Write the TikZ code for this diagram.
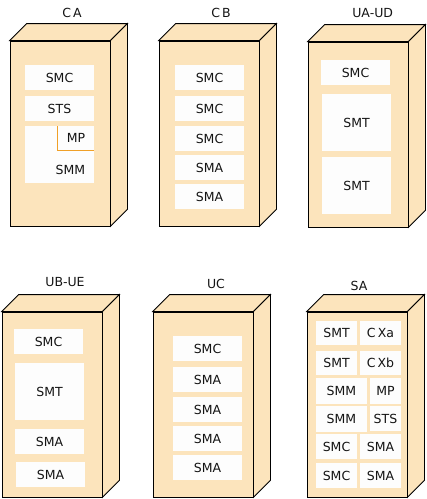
\documentclass[tikz,border=0pt]{standalone}
\usepackage{fontspec}
\setmainfont{DejaVu Sans}
\definecolor{cubefill}{RGB}{252,228,188}
\definecolor{inner}{RGB}{253,253,253}
\definecolor{txt}{RGB}{20,20,20}
\definecolor{mporange}{RGB}{240,160,40}
\begin{document}
\begin{tikzpicture}[x=1pt,y=-1pt,
  front/.style={draw=black,fill=cubefill,line width=0.8pt,minimum width=100pt,minimum height=185pt,inner sep=0pt},
  face/.style={draw=black,fill=cubefill,line width=0.8pt,line join=miter},
  cell/.style={fill=inner,inner sep=0pt,minimum width=69pt,minimum height=25pt,font=\fontsize{12.5}{14}\selectfont,text=txt},
  tall/.style={cell,minimum height=57pt},
  ttl/.style={font=\fontsize{12.5}{14}\selectfont,text=txt}]
\useasboundingbox (0,0) rectangle (427,499);
\newcommand{\cubefaces}[1]{%
  \draw[face] (#1.north west) -- ++(17,-17) -- ([shift={(17,-17)}]#1.north east) -- (#1.north east) -- cycle;
  \draw[face] (#1.north east) -- ++(17,-17) -- ([shift={(17,-17)}]#1.south east) -- (#1.south east) -- cycle;}
% ---- CA
\node[front] (ca) at (60,133.5) {};
\cubefaces{ca}
\node[ttl] (caT) at (72,13) {C\,A};
\node[cell] (ca1) at (59.5,77.5) {SMC};
\node[cell] (ca2) at (59.5,108.5) {STS};
\node[tall,minimum height=57pt] (ca3) at (59.5,154.5) {};
\node[ttl] (ca3t) at (70.5,170) {SMM};
\node[ttl] (ca4) at (76,138) {MP};
\coordinate (mpA) at (57.5,126);
\coordinate (mpB) at (57.5,150);
\coordinate (mpC) at (94,150);
\draw[mporange,line width=0.8pt] (mpA) -- (mpB) -- (mpC);
% ---- CB
\node[front] (cb) at (209,133.5) {};
\cubefaces{cb}
\node[ttl] (cbT) at (221,13) {C\,B};
\node[cell] (cb1) at (209.5,77.5) {SMC};
\node[cell] (cb2) at (209.5,108.5) {SMC};
\node[cell] (cb3) at (209.5,138.5) {SMC};
\node[cell] (cb4) at (209.5,167.5) {SMA};
\node[cell] (cb5) at (209.5,196.5) {SMA};
% ---- UA-UD
\node[front] (ua) at (358,134.5) {};
\cubefaces{ua}
\node[ttl] (uaT) at (372.7,13) {UA-UD};
\node[cell] (ua1) at (355.5,72.5) {SMC};
\node[tall] (ua2) at (356.5,122.5) {SMT};
\node[tall] (ua3) at (356.5,185.5) {SMT};
% ---- UB-UE
\node[front] (ub) at (52,404.5) {};
\cubefaces{ub}
\node[ttl] (ubT) at (65,282) {UB-UE};
\node[cell] (ub1) at (48.5,341.5) {SMC};
\node[tall] (ub2) at (49.5,391.5) {SMT};
\node[cell] (ub3) at (49.5,441.5) {SMA};
\node[cell] (ub4) at (50.5,474.5) {SMA};
% ---- UC
\node[front] (uc) at (203,404.5) {};
\cubefaces{uc}
\node[ttl] (ucT) at (216,284) {UC};
\node[cell] (uc1) at (207.5,348.5) {SMC};
\node[cell] (uc2) at (207.5,379.5) {SMA};
\node[cell] (uc3) at (207.5,409.5) {SMA};
\node[cell] (uc4) at (207.5,438.5) {SMA};
\node[cell] (uc5) at (207.5,467.5) {SMA};
% ---- SA
\node[front] (sa) at (357,404.5) {};
\cubefaces{sa}
\node[ttl] (saT) at (359,286) {SA};
\node[cell,minimum width=41pt,minimum height=24pt] (sa1) at (336.5,333) {SMT};
\node[cell,minimum width=41pt,minimum height=24pt] (sa2) at (380.5,333) {C\,Xa};
\node[cell,minimum width=41pt,minimum height=24pt] (sa3) at (336.5,363) {SMT};
\node[cell,minimum width=41pt,minimum height=24pt] (sa4) at (380.5,363) {C\,Xb};
\node[cell,minimum width=51pt,minimum height=26pt] (sa5) at (341.5,391) {SMM};
\node[cell,minimum width=31pt,minimum height=26pt] (sa6) at (385.5,391) {MP};
\node[cell,minimum width=51pt,minimum height=26pt] (sa7) at (341.5,419) {SMM};
\node[cell,minimum width=31pt,minimum height=25pt] (sa8) at (385.5,418.5) {STS};
\node[cell,minimum width=41pt,minimum height=25pt] (sa9) at (336.5,446.5) {SMC};
\node[cell,minimum width=41pt,minimum height=25pt] (sa10) at (380.5,446.5) {SMA};
\node[cell,minimum width=41pt,minimum height=25pt] (sa11) at (336.5,475.5) {SMC};
\node[cell,minimum width=41pt,minimum height=25pt] (sa12) at (380.5,475.5) {SMA};
\end{tikzpicture}
\end{document}
